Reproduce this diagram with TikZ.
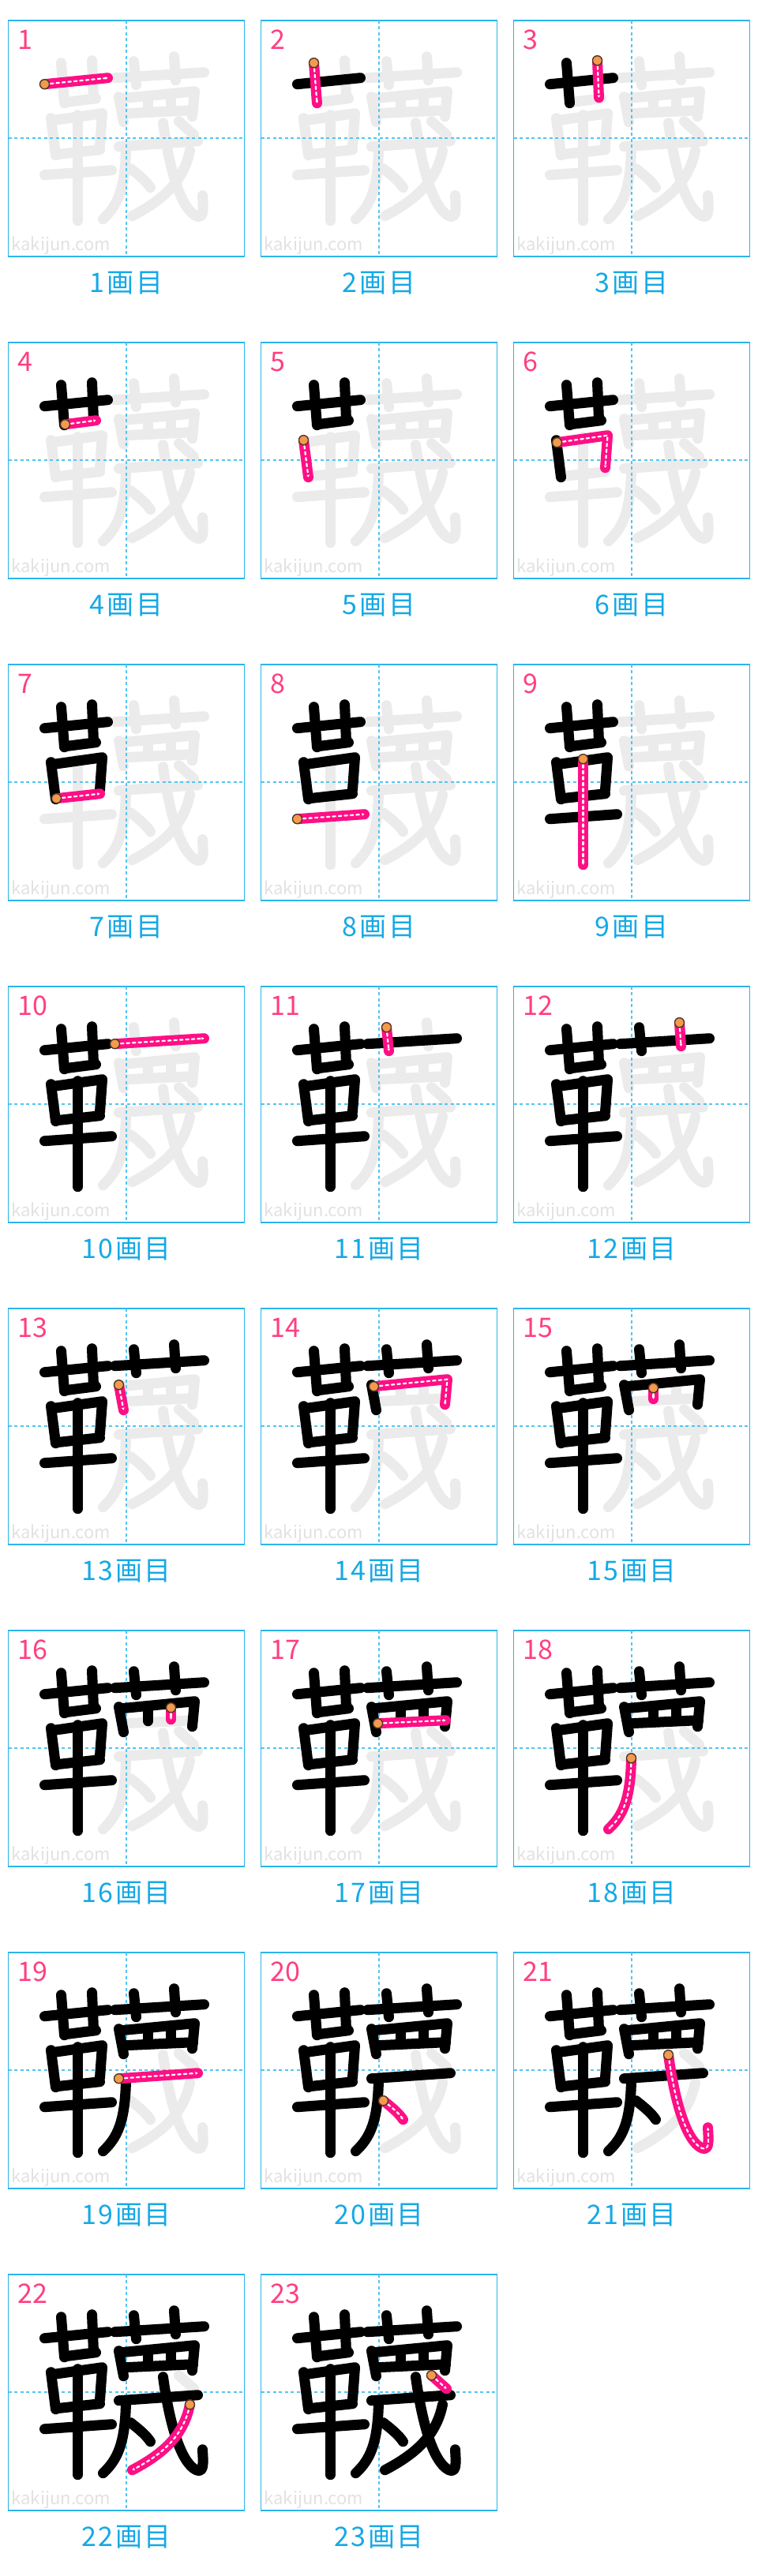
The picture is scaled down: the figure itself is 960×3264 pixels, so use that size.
\documentclass[tikz,border=0pt]{standalone}
\usepackage{fontspec}
\usepackage{tikz}
\usetikzlibrary{arrows.meta,decorations.markings}
\setmainfont{Noto Sans CJK JP}
\newfontfamily\lblfont[LetterSpace=8]{Noto Sans CJK JP}
\definecolor{cellblue}{HTML}{2BB4EA}
\definecolor{guideblue}{HTML}{55C4F2}
\definecolor{lblblue}{HTML}{14A9E6}
\definecolor{ghostgray}{HTML}{EBEBEB}
\definecolor{wmgray}{HTML}{E2E2E2}
\definecolor{strokepink}{HTML}{FF0F85}
\definecolor{numpink}{HTML}{FF3F80}
\definecolor{dotorange}{HTML}{F39A4C}
\definecolor{dotrim}{HTML}{4A3520}

\def\strokelist{%
  {(46,81) -- (126,73)},
  {(67,54) -- (71,105)},
  {(106,51) -- (108,98)},
  {(72,104) -- (111,99)},
  {(54,124) -- (60,171)},
  {(55,127) -- (119,118) -- (116,159)},
  {(61,170) -- (116,164)},
  {(46,196) -- (131,190)},
  {(88,120) -- (88,254)},
  {(135,73) -- (248,66)},
  {(159,52) -- (162,82)},
  {(210,46) -- (212,76)},
  {(140,97) -- (146,129)},
  {(143,99) -- (236,90) -- (233,122)},
  {(177,101) -- (177,115)},
  {(206,98) -- (206,113)},
  {(148,118) -- (234,114)},
  {(149,162) .. controls (148,215) and (138,235) .. (120,252)},
  {(140,160) -- (240,153)},
  {(155,188) .. controls (165,196) and (174,203) .. (180,212)},
  {(196,130) .. controls (204,188) and (218,238) .. (238,248) .. controls (248,252) and (247,240) .. (246,222)},
  {(230,165) .. controls (222,205) and (195,228) .. (157,248)},
  {(216,128) -- (235,145)}}

\begin{document}
\begin{tikzpicture}[
  x=1pt, y=-1pt,
  cell/.style={draw=cellblue, line width=1.6pt, fill=white, minimum size=299pt, inner sep=0pt, outer sep=0pt},
  guide/.style={draw=guideblue, line width=1.5pt, dash pattern=on 4pt off 3.5pt},
  pen/.style={line width=13pt, line cap=round, line join=round},
  ghost/.style={pen, draw=ghostgray},
  done/.style={pen, draw=black},
  now/.style={pen, draw=strokepink,
    postaction={draw=white, line width=2.2pt, dash pattern=on 3.5pt off 4pt, -{Triangle[length=3pt,width=3.5pt]}},
    postaction={decorate, decoration={markings, mark=at position 0 with {\draw[startdot] (0,0) circle (6pt);}}}},
  startdot/.style={fill=dotorange, draw=dotrim, line width=1.3pt},
  num/.style={font=\fontsize{34}{34}\selectfont, text=numpink, inner sep=0pt, anchor=base west},
  wmark/.style={font=\fontsize{22}{22}\selectfont, text=wmgray, inner sep=0pt, anchor=base west},
  lbl/.style={font=\lblfont\fontsize{34}{34}\selectfont, text=lblblue, inner sep=0pt, anchor=base},
]
  \fill[white] (0,0) rectangle (960,3264);
  \useasboundingbox (0,0) rectangle (960,3264);

  \foreach \idx [evaluate=\idx as \col using {int(mod(\idx-1,3))},
                 evaluate=\idx as \row using {int(floor((\idx-1)/3))}] in {1,...,23} {
    \begin{scope}[shift={(10.5+320*\col, 25.7+408*\row)}]
      \node[cell] (box\idx) at (149.5,149.5) {};
      \node[wmark] (wm\idx) at (4,292) {kakijun.com};
      \foreach \s in \strokelist {\draw[ghost] \s;}
      \draw[guide] (box\idx.north) -- (box\idx.south);
      \draw[guide] (box\idx.west) -- (box\idx.east);
      \foreach \s [count=\sn] in \strokelist {
        \ifnum\sn<\idx \draw[done] \s; \fi
        \ifnum\sn=\idx \draw[now] \s; \fi
      }
      \node[num] (num\idx) at (12,37) {\idx};
      \node[lbl] (lbl\idx) at ([yshift=-46pt]box\idx.south) {\idx 画目};
    \end{scope}
  }
\end{tikzpicture}
\end{document}
